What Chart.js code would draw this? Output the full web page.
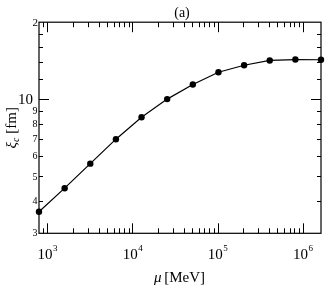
<!DOCTYPE html>
<html>
<head>
<meta charset="utf-8">
<script src="https://cdn.jsdelivr.net/npm/chart.js@4"></script>
<style>
  html, body { margin: 0; padding: 0; background: #fff; }
  #wrap { width: 325px; height: 286px; }
</style>
</head>
<body>
<div id="wrap"><canvas id="c" width="325" height="286"></canvas></div>
<script>
// ---- data ----
const muValues = [800, 1600, 3200, 6400, 12800, 25600, 51200, 102400, 204800, 409600, 819200, 1638400];
const xiValues = [3.64, 4.50, 5.61, 6.99, 8.51, 10.02, 11.42, 12.76, 13.58, 14.18, 14.30, 14.27];

// ---- tick labels ----
const xMajorTicks = [1e3, 1e4, 1e5, 1e6];
const xTickBase = '10';
const xTickExponents = ['3', '4', '5', '6'];
const yMajorTicks = [10, 20];
const yMajorLabels = ['10', '2'];
const yMinorTicks = [3, 4, 5, 6, 7, 8, 9, 12, 14, 16, 18];
const yMinorLabels = ['3', '4', '5', '6', '7', '8', '9', '', '', '', ''];

const titleText = '(a)';
const xTitleSymbol = 'μ';
const xTitleUnit = ' [MeV]';
const yTitleSymbol = 'ξ';
const yTitleSub = 'c';
const yTitleUnit = ' [fm]';

const SERIF = '"Liberation Serif", "DejaVu Serif", serif';

function seg(ctx, x1, y1, x2, y2) {
  ctx.beginPath(); ctx.moveTo(x1, y1); ctx.lineTo(x2, y2); ctx.stroke();
}

const framePlugin = {
  id: 'frame',
  beforeDatasetsDraw(chart) {
    const { ctx, chartArea: a, scales: { x, y } } = chart;
    ctx.save();
    ctx.strokeStyle = '#000';
    ctx.lineWidth = 1;
    for (let e = 2; e <= 6; e++) {
      for (let m = 1; m <= 9; m++) {
        const v = m * Math.pow(10, e);
        if (v < x.min * 1.0001 || v > x.max * 0.9999) continue;
        const px = Math.round(x.getPixelForValue(v)) + 0.5;
        const len = (m === 1) ? 10 : 5;
        seg(ctx, px, a.bottom, px, a.bottom - len);
        seg(ctx, px, a.top, px, a.top + len);
      }
    }
    yMajorTicks.forEach(v => {
      if (v >= y.max * 0.9999) return;
      const py = Math.round(y.getPixelForValue(v)) + 0.5;
      seg(ctx, a.left, py, a.left + 10, py);
      seg(ctx, a.right, py, a.right - 10, py);
    });
    yMinorTicks.forEach(v => {
      if (v <= y.min * 1.0001) return;
      const py = Math.round(y.getPixelForValue(v)) + 0.5;
      seg(ctx, a.left, py, a.left + 4, py);
      seg(ctx, a.right, py, a.right - 4, py);
    });
    ctx.lineWidth = 1.2;
    ctx.strokeRect(a.left, a.top, a.right - a.left, a.bottom - a.top);
    ctx.restore();
  },
  afterDraw(chart) {
    const { ctx, chartArea: a, scales: { x, y } } = chart;
    ctx.save();
    ctx.fillStyle = '#000';
    xMajorTicks.forEach((v, i) => {
      const px = x.getPixelForValue(v);
      ctx.font = '15px ' + SERIF;
      const wb = ctx.measureText(xTickBase).width;
      ctx.font = '9px ' + SERIF;
      const we = ctx.measureText(xTickExponents[i]).width;
      const start = px - (wb + we) / 2;
      ctx.textAlign = 'left';
      ctx.textBaseline = 'alphabetic';
      ctx.font = '15px ' + SERIF;
      ctx.fillText(xTickBase, start, 259);
      ctx.font = '9px ' + SERIF;
      ctx.fillText(xTickExponents[i], start + wb + 0.5, 251);
    });
    ctx.textAlign = 'right';
    ctx.textBaseline = 'middle';
    yMinorTicks.forEach((v, i) => {
      if (!yMinorLabels[i]) return;
      const py = y.getPixelForValue(v);
      ctx.font = '10px ' + SERIF;
      ctx.fillText(yMinorLabels[i], a.left - 1.5, py + 0.5);
    });
    yMajorTicks.forEach((v, i) => {
      const py = y.getPixelForValue(v);
      ctx.font = (v === 10 ? '15px ' : '11px ') + SERIF;
      ctx.fillText(yMajorLabels[i], v === 10 ? a.left - 6 : a.left - 1, py + 0.5);
    });
    ctx.textAlign = 'center';
    ctx.textBaseline = 'alphabetic';
    ctx.font = '14px ' + SERIF;
    ctx.fillText(titleText, 182, 17);
    ctx.textAlign = 'left';
    ctx.font = 'italic 15px ' + SERIF;
    const w1 = ctx.measureText(xTitleSymbol).width;
    ctx.font = '15px ' + SERIF;
    const w2 = ctx.measureText(xTitleUnit).width;
    const cx = (a.left + a.right) / 2;
    let sx = cx - (w1 + w2) / 2;
    ctx.font = 'italic 15px ' + SERIF;
    ctx.fillText(xTitleSymbol, sx, 282);
    ctx.font = '15px ' + SERIF;
    ctx.fillText(xTitleUnit, sx + w1 - 1, 282);
    ctx.save();
    ctx.translate(16, (a.top + a.bottom) / 2);
    ctx.rotate(-Math.PI / 2);
    ctx.font = 'italic 15px ' + SERIF;
    const ya = ctx.measureText(yTitleSymbol).width;
    ctx.font = 'italic 10px ' + SERIF;
    const yb = ctx.measureText(yTitleSub).width;
    ctx.font = '15px ' + SERIF;
    const yc = ctx.measureText(yTitleUnit).width;
    let ty = -(ya + yb + yc) / 2;
    ctx.font = 'italic 15px ' + SERIF;
    ctx.fillText(yTitleSymbol, ty, 0);
    ctx.font = 'italic 10px ' + SERIF;
    ctx.fillText(yTitleSub, ty + ya, 3);
    ctx.font = '15px ' + SERIF;
    ctx.fillText(yTitleUnit, ty + ya + yb, 0);
    ctx.restore();
    ctx.restore();
  }
};

new Chart(document.getElementById('c'), {
  type: 'scatter',
  data: {
    datasets: [{
      data: muValues.map((m, i) => ({ x: m, y: xiValues[i] })),
      showLine: true,
      borderColor: '#000',
      backgroundColor: '#000',
      borderWidth: 1.2,
      pointRadius: 3.2,
      pointBackgroundColor: '#000',
      pointBorderColor: '#000',
      pointBorderWidth: 0,
      tension: 0,
      clip: false
    }]
  },
  options: {
    responsive: false,
    animation: false,
    devicePixelRatio: 1,
    layout: { padding: { top: 22.2, right: 2.7, left: 0, bottom: 0 } },
    plugins: { legend: { display: false }, tooltip: { enabled: false }, title: { display: false } },
    scales: {
      x: {
        type: 'logarithmic',
        min: 800, max: 1638400,
        ticks: { display: false },
        grid: { display: false, drawTicks: false },
        border: { display: false },
        afterFit: s => { s.height = 52.7; }
      },
      y: {
        type: 'logarithmic',
        min: 3, max: 20,
        ticks: { display: false },
        grid: { display: false, drawTicks: false },
        border: { display: false },
        afterFit: s => { s.width = 39; }
      }
    }
  },
  plugins: [framePlugin]
});
</script>
</body>
</html>
